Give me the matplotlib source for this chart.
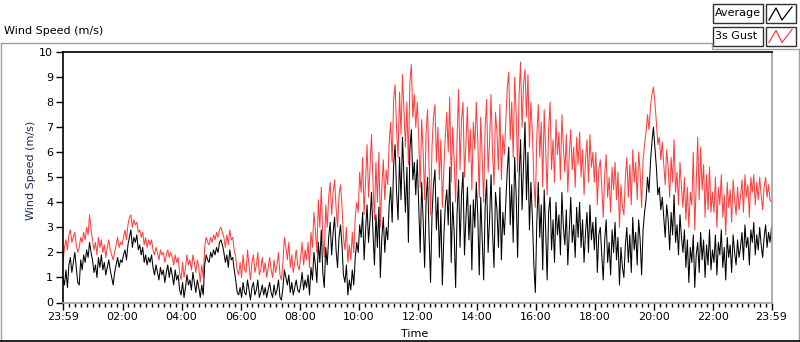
import matplotlib.pyplot as plt
import numpy as np
from matplotlib.patches import Rectangle

# wind speed samples, one every 3 minutes from 23:59 to 23:59 (m/s)
average = [
    1.0, 0.7, 1.3, 0.6, 1.5, 1.8, 1.2, 1.6, 2.0, 1.4, 0.8, 0.7, 1.7, 1.3, 1.9, 1.6, 2.1, 1.8, 2.4, 2.0,
    1.7, 1.2, 1.5, 1.0, 1.8, 1.4, 1.9, 1.3, 1.6, 1.1, 1.4, 1.7, 1.3, 1.0, 0.7, 1.2, 1.5, 1.8, 1.4, 1.7,
    1.6, 1.9, 2.1, 1.7, 2.3, 2.6, 2.9, 2.2, 2.6, 2.4, 2.7, 2.1, 2.3, 1.9, 2.2, 1.6, 1.9, 1.5, 1.8, 1.6,
    1.9, 1.4, 1.1, 1.5, 1.2, 0.9, 1.4, 1.1, 1.3, 0.8, 1.2, 1.5, 1.0, 1.4, 1.1, 0.7, 1.3, 0.9, 1.1, 0.5,
    0.3, 0.8, 0.2, 0.6, 1.1, 0.7, 0.9, 0.5, 1.2, 0.8, 0.4, 0.9, 0.6, 0.2, 0.7, 0.3, 1.5, 1.9, 1.7, 1.6,
    2.0, 1.8, 2.1, 1.9, 2.2, 2.0, 2.4, 2.5, 2.3, 2.0, 1.6, 1.9, 1.4, 2.1, 1.7, 1.8, 1.3, 0.9, 0.4, 0.3,
    0.6, 0.2, 0.8, 0.4, 0.3, 0.9, 0.5, 0.1, 0.6, 0.8, 0.3, 0.5, 0.9, 0.2, 0.4, 0.7, 0.3, 0.6, 0.2, 0.5,
    0.8, 0.4, 0.2, 0.7, 0.3, 0.5, 0.9, 0.2, 0.1, 0.6, 1.3, 1.0, 0.7, 1.1, 0.4, 0.8, 0.3, 0.6, 0.9, 0.5,
    0.4, 0.7, 1.2, 0.5, 0.9, 0.6, 1.1, 0.3, 1.4, 0.9, 2.0, 1.5, 0.8, 2.4, 1.6, 2.9, 1.2, 0.6, 2.2, 1.5,
    2.6, 3.2, 1.9, 2.8, 3.4, 2.1, 1.4, 2.6, 3.1, 2.3, 1.1, 0.8, 1.5, 0.3, 0.9, 0.5, 1.3, 0.7, 1.8, 2.4,
    2.0, 3.1, 2.6, 3.6, 1.7, 2.9, 3.9, 2.4, 3.3, 4.4, 2.8, 1.5, 3.5, 2.2, 3.8, 1.0, 2.6, 3.4, 2.0, 3.0,
    2.5, 3.9, 4.6, 3.2, 5.5, 6.3, 4.4, 3.3, 5.8, 4.1, 6.6, 5.0, 3.6, 5.4, 2.4, 6.1, 6.9, 4.9, 5.6, 4.3,
    5.7, 3.9, 2.0, 4.8, 3.3, 1.4, 4.1, 5.0, 2.7, 0.8, 3.5, 4.7, 5.3, 2.9, 4.2, 1.8, 3.7, 0.7, 2.6, 3.9,
    4.5, 3.1, 5.4, 1.6, 4.0, 2.8, 0.6, 3.6, 4.9, 2.2, 4.3, 5.2, 1.9, 3.4, 4.6, 2.5, 3.9, 1.3, 4.1, 3.0,
    4.8, 3.5, 1.1, 4.2, 2.6, 0.9, 3.8, 4.9, 2.0, 3.3, 5.1, 2.8, 1.4, 4.4, 3.7, 2.2, 4.6, 1.7, 3.6, 2.7,
    4.0, 5.3, 6.2, 3.1, 4.7, 2.4, 5.8, 4.3, 1.8, 5.0, 6.5, 3.7, 5.5, 7.2, 4.1, 6.0, 2.9, 4.8, 3.4, 1.5,
    0.4, 3.2, 4.8, 2.6, 3.9, 1.3, 4.5, 2.9, 0.9, 3.6, 4.2, 2.1, 3.3, 1.6, 4.0, 2.7, 3.5, 1.9, 4.4, 3.0,
    2.3, 3.7, 1.5, 2.9, 4.2, 2.4, 3.1, 1.8, 3.8, 2.6, 4.0, 2.2, 3.3, 1.6, 2.8, 3.6, 2.0, 3.9, 2.5, 3.2,
    2.1, 3.4, 1.2, 2.7, 3.0, 1.9, 0.9, 2.5, 3.3, 1.6, 2.4, 1.1, 2.9, 2.0, 3.2, 1.7, 2.6, 0.7, 2.2, 1.4,
    1.0, 2.3, 3.0, 1.6, 2.7, 1.2, 3.4, 2.1, 2.8, 1.5, 3.3, 2.5, 1.1, 2.9, 3.6, 4.1, 5.0, 4.4, 5.6, 6.4,
    7.0, 6.2, 5.4, 4.3, 4.6, 3.7, 4.2, 3.4, 2.6, 3.9, 3.3, 2.1, 3.6, 2.7, 4.3, 2.4, 3.1, 1.9, 3.5, 2.6,
    2.0, 2.9, 1.4, 2.5, 0.8, 2.2, 1.6, 2.7, 0.6, 1.9, 2.4, 1.2, 2.8, 1.7, 2.5, 1.0, 2.3, 1.5, 2.9, 1.3,
    2.1, 1.6, 2.7, 1.1, 2.4, 1.9, 2.9, 1.4, 2.2, 0.9, 2.6, 1.8, 2.3, 1.2, 2.7, 2.0, 1.5, 2.5, 1.8, 2.2,
    2.8, 1.7, 3.1, 2.2, 2.6, 1.5, 2.9, 2.4, 3.2, 1.9, 2.7, 2.1, 3.0, 2.3, 1.8, 2.6, 3.1, 2.2, 2.8, 2.4,
    3.0,
]
gust = [
    1.6, 2.2, 2.5, 2.1, 2.7, 2.9, 2.4, 2.6, 2.8, 2.3, 2.0, 2.2, 2.6, 2.4, 2.8, 2.5, 3.0, 2.7, 3.5, 2.9,
    2.5, 2.1, 2.4, 1.9, 2.6, 2.2, 2.5, 2.0, 2.3, 1.8, 2.2, 2.5, 2.1, 1.9, 1.7, 2.0, 2.3, 2.6, 2.2, 2.4,
    2.3, 2.6, 2.9, 2.5, 3.1, 3.4, 3.5, 3.0, 3.3, 3.1, 3.2, 2.8, 2.9, 2.6, 2.8, 2.3, 2.6, 2.2, 2.5, 2.3,
    2.5, 2.1, 1.9, 2.2, 2.0, 1.7, 2.1, 1.9, 2.0, 1.6, 1.9, 2.1, 1.8, 2.0, 1.8, 1.5, 1.9, 1.6, 1.8, 1.2,
    0.9, 1.6, 1.0, 1.4, 1.9, 1.5, 1.7, 1.3, 1.9, 1.6, 1.2, 1.7, 1.4, 0.8, 1.5, 1.0, 2.2, 2.6, 2.4, 2.3,
    2.6, 2.4, 2.7, 2.5, 2.8, 2.6, 2.9, 3.0, 2.8, 2.6, 2.2, 2.7, 2.3, 2.9, 2.5, 2.6, 2.1, 1.8, 1.3, 1.1,
    1.6, 1.0, 1.9, 1.3, 1.2, 2.1, 1.5, 0.9, 1.6, 1.9, 1.2, 1.5, 2.0, 1.1, 1.3, 1.8, 1.2, 1.6, 1.0, 1.4,
    1.8, 1.3, 1.0, 1.7, 1.2, 1.5, 2.0, 1.1, 0.9, 1.6, 2.6, 2.2, 1.7, 2.4, 1.4, 1.9, 1.2, 1.6, 2.1, 1.5,
    1.3, 1.8, 2.4, 1.5, 2.1, 1.7, 2.4, 1.4, 2.8, 2.2, 3.6, 2.9, 2.0, 4.1, 3.0, 4.6, 2.6, 1.8, 3.9, 3.0,
    4.2, 4.8, 3.5, 4.4, 4.9, 3.8, 3.0, 4.3, 4.7, 3.9, 2.6, 2.1, 3.0, 1.6, 2.3, 1.7, 2.8, 2.0, 3.4, 4.0,
    3.6, 5.2, 4.4, 5.8, 3.5, 4.9, 6.3, 4.2, 5.4, 6.7, 4.8, 3.3, 5.6, 4.0, 6.0, 3.0, 4.6, 5.7, 4.1, 5.3,
    4.7, 6.4, 7.2, 5.6, 8.1, 8.7, 6.9, 5.8, 8.4, 6.7, 9.1, 7.6, 6.2, 8.0, 5.5, 8.8, 9.5, 7.4, 8.3, 7.0,
    8.0, 6.6, 4.6, 7.3, 6.0, 4.1, 6.8, 7.7, 5.4, 3.5, 6.2, 7.4, 7.9, 5.6, 7.0, 4.9, 6.5, 3.8, 5.3, 6.6,
    7.6, 6.0, 8.2, 4.8, 7.0, 5.7, 4.0, 6.6, 8.5, 5.3, 7.3, 8.0, 5.0, 6.4, 7.8, 5.6, 6.9, 4.5, 7.2, 6.1,
    8.0, 6.5, 4.2, 7.4, 5.8, 4.0, 7.0, 8.1, 5.2, 6.4, 8.3, 6.0, 4.7, 7.6, 6.8, 5.3, 7.9, 4.9, 6.7, 5.9,
    7.3, 8.6, 9.2, 6.5, 8.0, 5.8, 9.0, 7.6, 5.2, 8.3, 9.6, 7.0, 8.7, 9.3, 7.4, 9.1, 6.2, 8.0, 6.8, 4.9,
    3.8, 6.6, 7.9, 5.8, 7.2, 4.6, 7.7, 6.1, 4.3, 6.9, 8.0, 5.3, 6.5, 4.8, 7.3, 5.9, 6.8, 4.9, 7.5, 6.2,
    5.2, 6.7, 4.4, 5.9, 6.9, 5.3, 6.2, 4.6, 6.6, 5.5, 6.8, 5.0, 6.1, 4.3, 5.7, 6.5, 4.8, 6.7, 5.4, 6.0,
    4.8, 6.0, 3.9, 5.3, 5.7, 4.6, 3.4, 5.1, 5.9, 4.2, 5.0, 3.6, 5.4, 4.5, 5.6, 4.1, 5.2, 3.0, 4.7, 3.8,
    3.5, 5.0, 5.8, 4.2, 5.5, 3.9, 6.1, 4.8, 5.6, 4.1, 6.0, 5.2, 3.8, 5.7, 6.3, 6.8, 7.5, 6.9, 7.8, 8.3,
    8.6, 8.0, 7.2, 6.3, 6.6, 5.7, 6.4, 5.5, 4.7, 6.1, 5.4, 4.2, 5.8, 4.8, 6.5, 4.4, 5.2, 3.9, 5.6, 4.6,
    3.8, 5.0, 3.3, 4.6, 3.0, 4.4, 3.9, 6.0, 2.9, 4.8, 6.6, 4.1, 6.2, 4.5, 5.5, 3.4, 5.1, 3.7, 5.4, 3.6,
    4.4, 3.6, 5.0, 3.0, 4.6, 3.9, 5.1, 3.4, 4.3, 2.7, 4.8, 3.8, 4.5, 3.2, 4.9, 4.1, 3.5, 4.6, 3.7, 4.2,
    4.9, 3.6, 5.1, 4.2, 4.7, 3.4, 5.0, 4.4, 5.1, 3.9, 4.8, 4.1, 5.0, 4.3, 3.7, 4.6, 5.0, 4.2, 4.7, 4.1,
    4.0,
]
step_min = 3
t_avg = np.arange(len(average)) * step_min
t_gust = np.arange(len(gust)) * step_min

tick_pos = [0, 121, 241, 361, 481, 601, 721, 841, 961, 1081, 1201, 1321, 1440]
tick_lab = ['23:59', '02:00', '04:00', '06:00', '08:00', '10:00', '12:00',
            '14:00', '16:00', '18:00', '20:00', '22:00', '23:59']
minor_pos = [m for m in range(13, 1440, 12) if m not in tick_pos]

red = '#ff4040'
W, H = 800, 342
fig = plt.figure(figsize=(W / 100, H / 100), dpi=100)
fig.patch.set_facecolor('white')

# pixel-space overlay for the panel decoration
bg = fig.add_axes([0, 0, 1, 1])
bg.set_xlim(0, W)
bg.set_ylim(H, 0)
bg.axis('off')
gray = '#a0a0a0'
bg.plot([0.5, 712, 712, W], [42.5, 42.5, 49, 49], color=gray, lw=1)
bg.plot([0.5, 0.5], [42.5, 341], color=gray, lw=1)
bg.plot([798.5, 798.5], [49, 341], color=gray, lw=1)
bg.plot([0, W], [340.5, 340.5], color='black', lw=1.2)
bg.text(4, 31, 'Wind Speed (m/s)', fontsize=8, ha='left', va='center')
bg.text(31, 170, 'Wind Speed (m/s)', fontsize=8, rotation=90, ha='center',
        va='center', color='#1c2f5a')
bg.text(415, 334, 'Time', fontsize=8, ha='center', va='center')

# legend boxes
for (y0, name, col) in [(4, 'Average', 'black'), (26.5, '3s Gust', red)]:
    bg.add_patch(Rectangle((713, y0), 50, 19, fill=True, fc='white', ec='#303030', lw=1))
    bg.add_patch(Rectangle((766, y0), 30, 19, fill=True, fc='white', ec='#303030', lw=1))
    bg.text(715, y0 + 9.5, name, fontsize=8, ha='left', va='center')
    zx = [769, 776, 782, 792]
    zy = [y0 + 16, y0 + 4, y0 + 16, y0 + 3]
    bg.plot(zx, zy, color=col, lw=0.9)

ax = fig.add_axes([63 / W, 1 - 302.5 / H, 708.5 / W, 250.5 / H])
ax.plot(t_gust, gust, color=red, lw=0.75)
ax.plot(t_avg, average, color='black', lw=0.75)
ax.set_xlim(0, 1440)
ax.set_ylim(0, 10)
ax.set_yticks(range(0, 11))
ax.set_xticks(tick_pos)
ax.set_xticklabels(tick_lab)
ax.set_xticks(minor_pos, minor=True)
ax.tick_params(axis='both', which='major', direction='out', length=5, width=1,
               labelsize=8, pad=2)
ax.tick_params(axis='x', which='minor', direction='out', length=3, width=1)
ax.spines['top'].set_color('black')
ax.spines['left'].set_color('black')
ax.spines['right'].set_color(gray)
ax.spines['bottom'].set_color(gray)
for s in ax.spines.values():
    s.set_linewidth(1.2)

fig.savefig('out.png', dpi=100)
